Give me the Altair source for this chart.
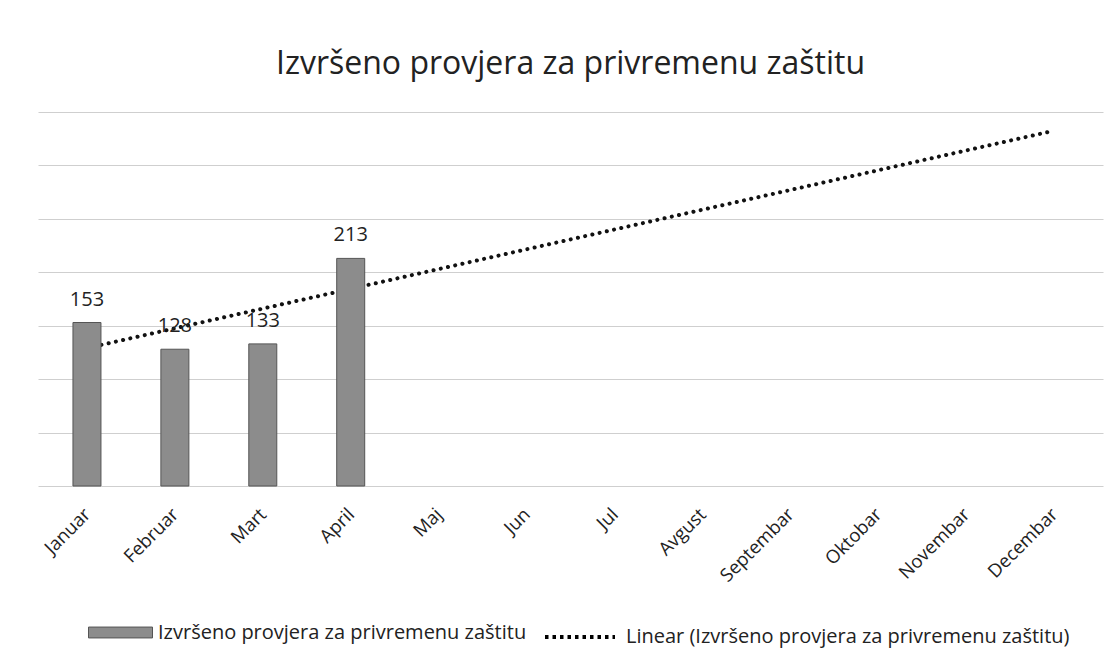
import json
import altair as alt
import pandas as pd

months = ["Januar", "Februar", "Mart", "April", "Maj", "Jun", "Jul",
          "Avgust", "Septembar", "Oktobar", "Novembar", "Decembar"]
month_idx = [1, 2, 3, 4]
values = [153, 128, 133, 213]
y_ticks = [0, 50, 100, 150, 200, 250, 300, 350]

series_name = "Izvršeno provjera za privremenu zaštitu"
trend_name = "Linear (Izvršeno provjera za privremenu zaštitu)"
title_text = "Izvršeno provjera za privremenu zaštitu"

df = pd.DataFrame({"idx": month_idx, "value": values})

FONT = "Open Sans"
label_expr = json.dumps(months) + "[datum.value - 1]"

x_enc = alt.X(
    "idx:Q",
    scale=alt.Scale(domain=[0.5, 12.5], nice=False, zero=False),
    axis=alt.Axis(
        values=list(range(1, 13)), labelExpr=label_expr, labelAngle=-45,
        labelAlign="right", labelBaseline="middle",
        grid=False, ticks=False, domain=False, title=None,
        labelFont=FONT, labelFontSize=18.5, labelColor="#222222", labelPadding=25,
        labelBound=False, labelOverlap=False,
    ),
)
y_enc = alt.Y(
    "value:Q",
    scale=alt.Scale(domain=[0, 350], nice=False),
    axis=alt.Axis(
        values=y_ticks, grid=True, gridColor="#cfcfcf", gridWidth=1,
        labels=False, ticks=False, domain=False, title=None,
    ),
)

base = alt.Chart(df)

# dotted linear trend line (fitted by Vega's regression transform)
trend = base.transform_regression(
    "idx", "value", method="linear", extent=[1, 12]
).mark_line(
    strokeWidth=4, strokeCap="round", color="#111111", strokeDash=[0.1, 7.3]
).encode(x=x_enc, y=y_enc)

# legend entry for the trend line (no marks drawn)
trend_legend = base.transform_filter("false").transform_calculate(
    series=json.dumps(trend_name)
).mark_line(strokeWidth=4, color="#000000").encode(
    x=x_enc,
    y=y_enc,
    strokeDash=alt.StrokeDash(
        "series:N",
        scale=alt.Scale(domain=[trend_name], range=[[3.5, 4]]),
        legend=alt.Legend(
            title=None, orient="none", legendX=505, legendY=488,
            symbolType="stroke", symbolSize=4900, symbolStrokeWidth=4,
            symbolStrokeColor="#000000",
            labelFont=FONT, labelFontSize=20, labelColor="#222222",
            labelOffset=9, padding=0, labelLimit=800,
        ),
    ),
)

bars = base.transform_calculate(
    series=json.dumps(series_name)
).mark_bar(size=28, stroke="#555555", strokeWidth=1).encode(
    x=x_enc,
    y=y_enc,
    color=alt.Color(
        "series:N",
        scale=alt.Scale(domain=[series_name], range=["#8c8c8c"]),
        legend=alt.Legend(
            title=None, orient="none", legendX=50, legendY=488,
            symbolType="M-1,-0.17L1,-0.17L1,0.17L-1,0.17Z", symbolSize=4096,
            symbolStrokeColor="#555555", symbolStrokeWidth=1,
            labelFont=FONT, labelFontSize=20, labelColor="#222222",
            labelOffset=5, padding=0, labelLimit=800,
        ),
    ),
)

labels = base.mark_text(
    font=FONT, fontSize=20, color="#222222", baseline="alphabetic", dy=-17
).encode(x=x_enc, y=y_enc, text=alt.Text("value:Q"))

chart = alt.layer(trend, trend_legend, bars, labels).properties(
    width=1065,
    height=374,
    background="white",
    padding={"left": 30, "top": 40, "right": 5, "bottom": 5},
    title=alt.TitleParams(
        title_text, font=FONT, fontSize=32, fontWeight="normal",
        color="#222222", anchor="middle", offset=31,
    ),
).configure_view(stroke=None)

chart.save("out.html", embed_options={"renderer": "svg", "actions": False})
